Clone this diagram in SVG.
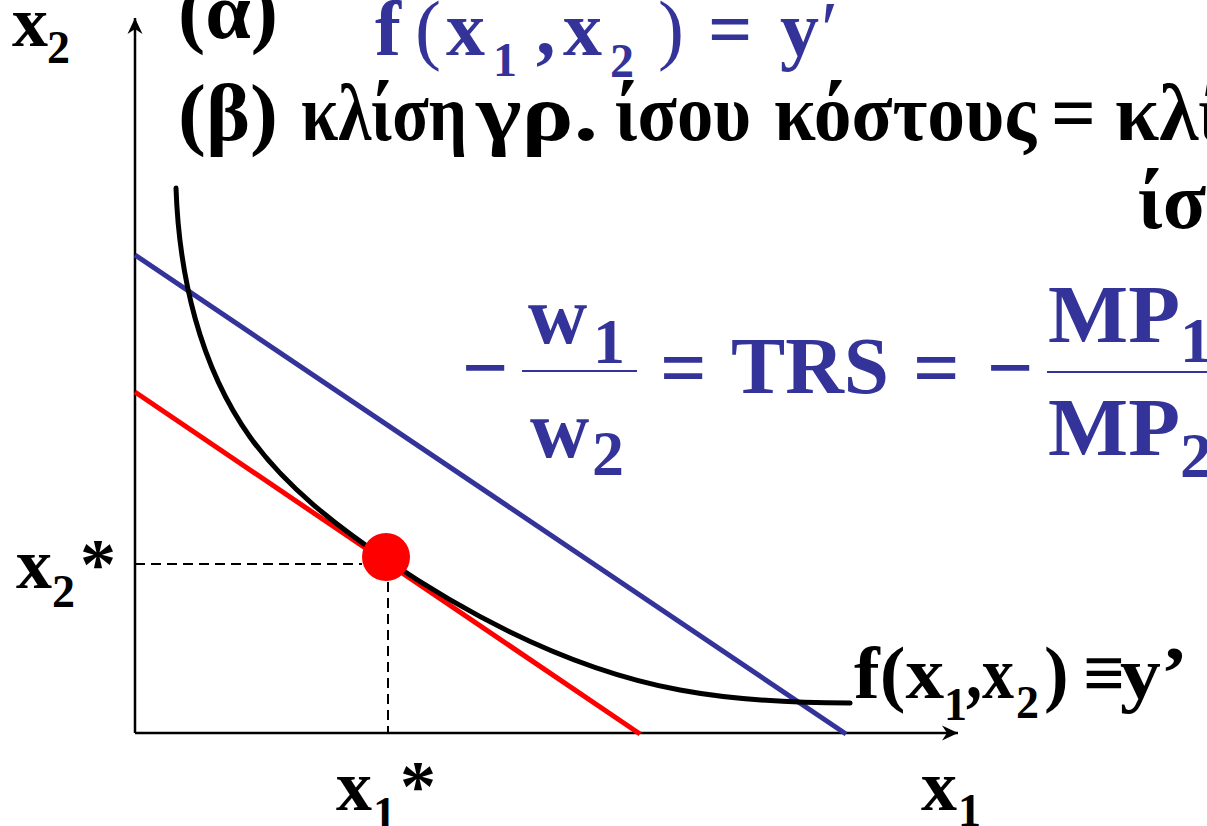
<svg xmlns="http://www.w3.org/2000/svg" width="1207" height="826" viewBox="0 0 1207 826">
<defs>
<marker id="arr" markerUnits="userSpaceOnUse" viewBox="-18 -9 20 18" refX="0" refY="0" markerWidth="20" markerHeight="18" orient="auto">
<path d="M0,0 L-16,-7.5 L-11,0 L-16,7.5 Z" fill="#000"/>
</marker>
</defs>
<rect width="1207" height="826" fill="#fff"/>
<g id="connectors">
<path id="x2-axis" stroke="#000" stroke-width="2.5" fill="none" d="M135,733 L135,18" marker-end="url(#arr)"/>
<path id="x1-axis" stroke="#000" stroke-width="2.5" fill="none" d="M135,733 L958,733" marker-end="url(#arr)"/>
<path id="blue-isocost" d="M135,255 L846,734" stroke="#333399" stroke-width="5" fill="none"/>
<path id="red-isocost" d="M135,392 L640,734" stroke="#ff0000" stroke-width="5" fill="none"/>
<path id="isoquant" d="M176,188 C179,275 199.5,366 250,437 C285.5,486.7 336.5,525.8 387,560 C475.6,620 575,670.5 680,690 C736,700.4 793,703 850,703" stroke="#000" stroke-width="5" fill="none" stroke-linecap="round"/>
<path stroke="#000" stroke-width="2" stroke-dasharray="10 6" fill="none" d="M135,564 L362,564"/>
<path stroke="#000" stroke-width="2" stroke-dasharray="10 6" fill="none" d="M388,582 L388,733"/>
</g>
<g id="optimum"><circle cx="386" cy="557" r="24" fill="#ff0000"/></g>
<g id="label-x2">
<text x="12" y="46" font-size="72" fill="#000"><tspan style="font-family:'Liberation Serif',serif;font-weight:bold">x</tspan></text>
<text x="47" y="63" font-size="46" fill="#000"><tspan style="font-family:'Liberation Serif',serif;font-weight:bold">2</tspan></text>
</g>
<g id="label-x2star">
<text x="16" y="588" font-size="72" fill="#000"><tspan style="font-family:'Liberation Serif',serif;font-weight:bold">x</tspan></text>
<text x="52" y="607" font-size="46" fill="#000"><tspan style="font-family:'Liberation Serif',serif;font-weight:bold">2</tspan></text>
<text x="80" y="588" font-size="72" fill="#000"><tspan style="font-family:'Liberation Serif',serif;font-weight:bold">*</tspan></text>
</g>
<g id="label-x1star">
<text x="336" y="810" font-size="72" fill="#000"><tspan style="font-family:'Liberation Serif',serif;font-weight:bold">x</tspan></text>
<text x="373" y="829" font-size="46" fill="#000"><tspan style="font-family:'Liberation Serif',serif;font-weight:bold">1</tspan></text>
<text x="400" y="810" font-size="72" fill="#000"><tspan style="font-family:'Liberation Serif',serif;font-weight:bold">*</tspan></text>
</g>
<g id="label-x1">
<text x="921" y="810" font-size="72" fill="#000"><tspan style="font-family:'Liberation Serif',serif;font-weight:bold">x</tspan></text>
<text x="958" y="826" font-size="46" fill="#000"><tspan style="font-family:'Liberation Serif',serif;font-weight:bold">1</tspan></text>
</g>
<g id="label-isoquant">
<text x="854" y="698" font-size="74" fill="#000" textLength="90" lengthAdjust="spacingAndGlyphs"><tspan style="font-family:'Liberation Serif',serif;font-weight:bold">f(x</tspan></text>
<text x="944" y="720" font-size="46" fill="#000"><tspan style="font-family:'Liberation Serif',serif;font-weight:bold">1</tspan></text>
<text x="966" y="698" font-size="74" fill="#000" textLength="48" lengthAdjust="spacingAndGlyphs"><tspan style="font-family:'Liberation Serif',serif;font-weight:bold">,x</tspan></text>
<text x="1016" y="718" font-size="46" fill="#000"><tspan style="font-family:'Liberation Serif',serif;font-weight:bold">2</tspan></text>
<text x="1044" y="698" font-size="74" fill="#000"><tspan style="font-family:'Liberation Serif',serif;font-weight:bold">)</tspan></text>
<text x="1083" y="698" font-size="74" fill="#000"><tspan style="font-family:'Liberation Serif',serif;font-weight:bold">≡</tspan></text>
<text x="1120" y="698" font-size="74" fill="#000" textLength="68" lengthAdjust="spacingAndGlyphs"><tspan style="font-family:'Liberation Serif',serif;font-weight:bold">y’</tspan></text>
</g>
<g id="line-alpha">
<text x="178" y="38" font-size="80" fill="#000" textLength="100" lengthAdjust="spacingAndGlyphs"><tspan style="font-family:'Liberation Serif',serif;font-weight:bold">(α)</tspan></text>
<text x="375" y="55" font-size="78" fill="#333399"><tspan style="font-family:'Liberation Serif',serif;font-weight:bold">f</tspan></text>
<text x="415" y="55" font-size="78" fill="#333399"><tspan style="font-family:'Liberation Serif',serif;font-weight:normal">(</tspan></text>
<text x="446" y="55" font-size="78" fill="#333399"><tspan style="font-family:'Liberation Serif',serif;font-weight:bold">x</tspan></text>
<text x="493" y="76" font-size="48" fill="#333399"><tspan style="font-family:'Liberation Serif',serif;font-weight:bold">1</tspan></text>
<text x="536" y="55" font-size="78" fill="#333399"><tspan style="font-family:'Liberation Serif',serif;font-weight:bold">,</tspan></text>
<text x="563" y="55" font-size="78" fill="#333399"><tspan style="font-family:'Liberation Serif',serif;font-weight:bold">x</tspan></text>
<text x="610" y="77" font-size="48" fill="#333399"><tspan style="font-family:'Liberation Serif',serif;font-weight:bold">2</tspan></text>
<text x="658" y="55" font-size="78" fill="#333399"><tspan style="font-family:'Liberation Serif',serif;font-weight:normal">)</tspan></text>
<text x="708" y="55" font-size="78" fill="#333399"><tspan style="font-family:'Liberation Serif',serif;font-weight:bold">=</tspan></text>
<text x="780" y="55" font-size="78" fill="#333399"><tspan style="font-family:'Liberation Serif',serif;font-weight:bold">y</tspan></text>
<text x="821" y="55" font-size="78" fill="#333399"><tspan style="font-family:'Liberation Serif',serif;font-weight:normal">′</tspan></text>
</g>
<g id="line-beta">
<text x="178" y="140" font-size="80" fill="#000" textLength="100" lengthAdjust="spacingAndGlyphs"><tspan style="font-family:'Liberation Serif',serif;font-weight:bold">(β)</tspan></text>
<text x="301" y="140" font-size="80" fill="#000" textLength="166" lengthAdjust="spacingAndGlyphs"><tspan style="font-family:'Liberation Serif',serif;font-weight:bold">κλίση</tspan></text>
<text x="476" y="140" font-size="80" fill="#000" textLength="122" lengthAdjust="spacingAndGlyphs"><tspan style="font-family:'Liberation Serif',serif;font-weight:bold">γρ.</tspan></text>
<text x="615" y="140" font-size="80" fill="#000" textLength="136" lengthAdjust="spacingAndGlyphs"><tspan style="font-family:'Liberation Serif',serif;font-weight:bold">ίσου</tspan></text>
<text x="774" y="140" font-size="80" fill="#000" textLength="262" lengthAdjust="spacingAndGlyphs"><tspan style="font-family:'Liberation Serif',serif;font-weight:bold">κόστους</tspan></text>
<text x="1051" y="140" font-size="80" fill="#000" textLength="45" lengthAdjust="spacingAndGlyphs"><tspan style="font-family:'Liberation Serif',serif;font-weight:bold">=</tspan></text>
<text x="1115" y="140" font-size="80" fill="#000" textLength="108" lengthAdjust="spacingAndGlyphs"><tspan style="font-family:'Liberation Serif',serif;font-weight:bold">κλί</tspan></text>
<text x="1138" y="228" font-size="80" fill="#000" textLength="108" lengthAdjust="spacingAndGlyphs"><tspan style="font-family:'Liberation Serif',serif;font-weight:bold">ίσο</tspan></text>
</g>
<g id="trs-equation">
<text x="462" y="395" font-size="82" fill="#333399"><tspan style="font-family:'Liberation Serif',serif;font-weight:bold">−</tspan></text>
<line x1="522" y1="371" x2="637" y2="371" stroke="#333399" stroke-width="2"/>
<text x="528" y="343" font-size="82" fill="#333399"><tspan style="font-family:'Liberation Serif',serif;font-weight:bold">w</tspan></text>
<text x="593" y="363" font-size="64" fill="#333399"><tspan style="font-family:'Liberation Serif',serif;font-weight:bold">1</tspan></text>
<text x="530" y="457" font-size="82" fill="#333399"><tspan style="font-family:'Liberation Serif',serif;font-weight:bold">w</tspan></text>
<text x="592" y="475" font-size="64" fill="#333399"><tspan style="font-family:'Liberation Serif',serif;font-weight:bold">2</tspan></text>
<text x="660" y="395" font-size="82" fill="#333399"><tspan style="font-family:'Liberation Serif',serif;font-weight:bold">=</tspan></text>
<text x="731" y="393" font-size="80" fill="#333399" textLength="158" lengthAdjust="spacingAndGlyphs"><tspan style="font-family:'Liberation Serif',serif;font-weight:bold">TRS</tspan></text>
<text x="913" y="395" font-size="82" fill="#333399"><tspan style="font-family:'Liberation Serif',serif;font-weight:bold">=</tspan></text>
<text x="987" y="395" font-size="82" fill="#333399"><tspan style="font-family:'Liberation Serif',serif;font-weight:bold">−</tspan></text>
<line x1="1047" y1="372" x2="1207" y2="372" stroke="#333399" stroke-width="2"/>
<text x="1048" y="342" font-size="82" fill="#333399" textLength="132" lengthAdjust="spacingAndGlyphs"><tspan style="font-family:'Liberation Serif',serif;font-weight:bold">MP</tspan></text>
<text x="1180" y="362" font-size="64" fill="#333399"><tspan style="font-family:'Liberation Serif',serif;font-weight:bold">1</tspan></text>
<text x="1048" y="455" font-size="82" fill="#333399" textLength="132" lengthAdjust="spacingAndGlyphs"><tspan style="font-family:'Liberation Serif',serif;font-weight:bold">MP</tspan></text>
<text x="1180" y="477" font-size="64" fill="#333399"><tspan style="font-family:'Liberation Serif',serif;font-weight:bold">2</tspan></text>
</g>
</svg>
